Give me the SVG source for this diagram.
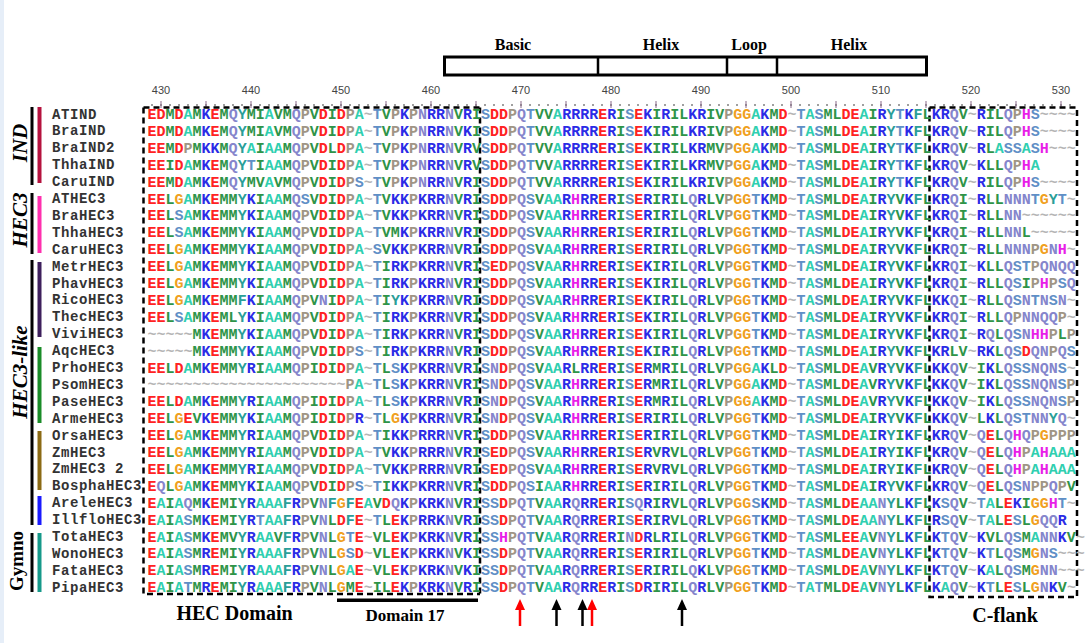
<svg xmlns="http://www.w3.org/2000/svg" width="1091" height="643" viewBox="0 0 1091 643">
<style>
.n{font:bold 14px 'Liberation Mono',monospace;letter-spacing:.6px;fill:#333}
.sq{font:bold 15px 'Liberation Mono',monospace;fill:#2e9448}
.r{fill:#ff2222}.c{fill:#30cfb0}.b{fill:#2b2be6}.q{fill:#8585cc}.s{fill:#5f8fc6}.p{fill:#a09585}.y{fill:#2a9e98}.o{fill:#f0a020}.h{fill:#e81ee8}.t{fill:#b5b5b5}
.rn{font:11px 'Liberation Sans',sans-serif;fill:#444;text-anchor:middle}
.hd{font:bold 16px 'Liberation Serif',serif;text-anchor:middle;fill:#000}
.gl{font:italic bold 21px 'Liberation Serif',serif;text-anchor:middle;fill:#000}
.lb{font:bold 20px 'Liberation Serif',serif;text-anchor:middle;fill:#000}
.dash{fill:none;stroke:#000;stroke-width:2.5;stroke-dasharray:6 4}
</style>
<rect width="1091" height="643" fill="#fff"/>
<rect x="0" y="0" width="4" height="643" fill="#e6eef8"/>
<g id="domains">
<rect x="444.5" y="57" width="482" height="18" fill="none" stroke="#000" stroke-width="3"/>
<path d="M598 57V75M727 57V75M777 57V75" stroke="#000" stroke-width="2.5"/>
<text class="hd" x="513" y="50">Basic</text>
<text class="hd" x="661" y="50">Helix</text>
<text class="hd" x="749" y="50">Loop</text>
<text class="hd" x="849" y="50">Helix</text>
</g>
<g id="ruler">
<text class="rn" x="161" y="94">430</text><text class="rn" x="251" y="94">440</text><text class="rn" x="341" y="94">450</text><text class="rn" x="431" y="94">460</text><text class="rn" x="521" y="94">470</text><text class="rn" x="611" y="94">480</text><text class="rn" x="701" y="94">490</text><text class="rn" x="791" y="94">500</text><text class="rn" x="881" y="94">510</text><text class="rn" x="971" y="94">520</text><text class="rn" x="1061" y="94">530</text>
<line x1="151.25" y1="105" x2="1071" y2="105" stroke="#555" stroke-width="1.5" stroke-dasharray="1.5 7.5"/>
<line x1="160.5" y1="104.5" x2="1071" y2="104.5" stroke="#8a6a8a" stroke-width="7" stroke-dasharray="1 44"/>
</g>
<g id="boxes">
<path class="dash" d="M143.5 107.5H480M143.5 107.5V594H480M480 107.5V596"/>
<path class="dash" d="M929.5 107.5H1077V597H929.5V107.5"/>
<rect x="337" y="598.5" width="141" height="3.5" fill="#000"/>
<text class="lb" x="234.5" y="620">HEC Domain</text>
<text class="lb" x="405" y="620.5" style="font-size:17px">Domain 17</text>
<text class="lb" x="1005" y="622">C-flank</text>
</g>
<g id="groups">
<rect x="30.5" y="107" width="3" height="78" fill="#000"/><rect x="37.5" y="107" width="4" height="76" fill="#b5123e"/>
<text class="gl" transform="translate(27 143) rotate(-90)">IND</text>
<rect x="30.5" y="193" width="3" height="61" fill="#000"/><rect x="37.5" y="196" width="4" height="57" fill="#ff2fae"/>
<text class="gl" transform="translate(27 220) rotate(-90)">HEC3</text>
<rect x="30.5" y="260" width="3" height="265" fill="#000"/>
<rect x="37.5" y="262" width="4" height="75" fill="#3d1f5c"/><rect x="37.5" y="347" width="4" height="76" fill="#1a8c28"/><rect x="37.5" y="431" width="4" height="59" fill="#8b6a14"/><rect x="37.5" y="496" width="4" height="29" fill="#1a1aff"/>
<text class="gl" transform="translate(27 372) rotate(-90)">HEC3-like</text>
<rect x="30.5" y="533" width="3" height="59" fill="#000"/><rect x="37.5" y="533" width="4" height="59" fill="#16998a"/>
<text class="gl" style="font-style:normal;font-size:19px" transform="translate(23 561) rotate(-90)">Gymno</text>
</g>
<g id="arrows" stroke-width="2.5">
<g stroke="#f00" fill="#f00"><path d="M520 626V606"/><path d="M515 610L520 599L525 610Z" stroke="none"/><path d="M592 626V606"/><path d="M587 610L592 599L597 610Z" stroke="none"/></g>
<g stroke="#000" fill="#000"><path d="M556.5 626V606"/><path d="M551.5 610L556.5 599L561.5 610Z" stroke="none"/><path d="M582.5 626V606"/><path d="M577.5 610L582.5 599L587.5 610Z" stroke="none"/><path d="M682 626V606"/><path d="M677 610L682 599L687 610Z" stroke="none"/></g>
</g>
<g id="r0"><text class="n" x="52" y="118.5">ATIND</text><text class="sq" x="147.5" y="119"><tspan class="r">ED</tspan>M<tspan class="r">D</tspan><tspan class="c">A</tspan>M<tspan class="b">K</tspan><tspan class="r">E</tspan>M<tspan class="q">Q</tspan><tspan class="y">Y</tspan>MI<tspan class="c">A</tspan>VM<tspan class="q">Q</tspan><tspan class="p">P</tspan>V<tspan class="r">D</tspan>I<tspan class="r">D</tspan><tspan class="p">P</tspan><tspan class="c">A</tspan><tspan class="t">~</tspan><tspan class="s">T</tspan>V<tspan class="p">P</tspan><tspan class="b">K</tspan><tspan class="p">P</tspan><tspan class="q">N</tspan><tspan class="b">RR</tspan><tspan class="q">N</tspan>V<tspan class="b">R</tspan>I<tspan class="s">S</tspan><tspan class="r">DD</tspan><tspan class="p">P</tspan><tspan class="q">Q</tspan><tspan class="s">T</tspan>VV<tspan class="c">A</tspan><tspan class="b">RRRR</tspan><tspan class="r">E</tspan><tspan class="b">R</tspan>I<tspan class="s">S</tspan><tspan class="r">E</tspan><tspan class="b">K</tspan>I<tspan class="b">R</tspan>IL<tspan class="b">KR</tspan>IV<tspan class="p">P</tspan><tspan class="o">GG</tspan><tspan class="c">A</tspan><tspan class="b">K</tspan>M<tspan class="r">D</tspan><tspan class="t">~</tspan><tspan class="s">T</tspan><tspan class="c">A</tspan><tspan class="s">S</tspan>ML<tspan class="r">DE</tspan><tspan class="c">A</tspan>I<tspan class="b">R</tspan><tspan class="y">Y</tspan><tspan class="s">T</tspan><tspan class="b">K</tspan><tspan class="y">F</tspan>L<tspan class="b">KR</tspan><tspan class="q">Q</tspan>V<tspan class="t">~</tspan><tspan class="b">R</tspan>IL<tspan class="q">Q</tspan><tspan class="p">P</tspan><tspan class="h">H</tspan><tspan class="s">S</tspan><tspan class="t">~~~~</tspan></text></g>
<g id="r1"><text class="n" x="52" y="135.4">BraIND</text><text class="sq" x="147.5" y="135.9"><tspan class="r">ED</tspan>M<tspan class="r">D</tspan><tspan class="c">A</tspan>M<tspan class="b">K</tspan><tspan class="r">E</tspan>M<tspan class="q">Q</tspan><tspan class="y">Y</tspan>MI<tspan class="c">A</tspan>VM<tspan class="q">Q</tspan><tspan class="p">P</tspan>V<tspan class="r">D</tspan>I<tspan class="r">D</tspan><tspan class="p">P</tspan><tspan class="c">A</tspan><tspan class="t">~</tspan><tspan class="s">T</tspan>V<tspan class="p">P</tspan><tspan class="b">K</tspan><tspan class="p">P</tspan><tspan class="q">N</tspan><tspan class="b">RR</tspan><tspan class="q">N</tspan>V<tspan class="b">K</tspan>I<tspan class="s">S</tspan><tspan class="r">DD</tspan><tspan class="p">P</tspan><tspan class="q">Q</tspan><tspan class="s">T</tspan>VV<tspan class="c">A</tspan><tspan class="b">RRRR</tspan><tspan class="r">E</tspan><tspan class="b">R</tspan>I<tspan class="s">S</tspan><tspan class="r">E</tspan><tspan class="b">K</tspan>I<tspan class="b">R</tspan>IL<tspan class="b">KR</tspan>IV<tspan class="p">P</tspan><tspan class="o">GG</tspan><tspan class="c">A</tspan><tspan class="b">K</tspan>M<tspan class="r">D</tspan><tspan class="t">~</tspan><tspan class="s">T</tspan><tspan class="c">A</tspan><tspan class="s">S</tspan>ML<tspan class="r">DE</tspan><tspan class="c">A</tspan>I<tspan class="b">R</tspan><tspan class="y">Y</tspan><tspan class="s">T</tspan><tspan class="b">K</tspan><tspan class="y">F</tspan>L<tspan class="b">KR</tspan><tspan class="q">Q</tspan>V<tspan class="t">~</tspan><tspan class="b">R</tspan>IL<tspan class="q">Q</tspan><tspan class="p">P</tspan><tspan class="h">H</tspan><tspan class="s">S</tspan><tspan class="t">~~~~</tspan></text></g>
<g id="r2"><text class="n" x="52" y="152.3">BraIND2</text><text class="sq" x="147.5" y="152.8"><tspan class="r">EE</tspan>M<tspan class="r">D</tspan><tspan class="p">P</tspan>M<tspan class="b">KK</tspan>M<tspan class="q">Q</tspan><tspan class="y">Y</tspan><tspan class="c">A</tspan>I<tspan class="c">AA</tspan>M<tspan class="q">Q</tspan><tspan class="p">P</tspan>V<tspan class="r">D</tspan>L<tspan class="r">D</tspan><tspan class="p">P</tspan><tspan class="c">A</tspan><tspan class="t">~</tspan><tspan class="s">T</tspan>V<tspan class="p">P</tspan><tspan class="b">K</tspan><tspan class="p">P</tspan><tspan class="q">N</tspan><tspan class="b">RR</tspan><tspan class="q">N</tspan>V<tspan class="b">R</tspan>V<tspan class="s">S</tspan><tspan class="r">DD</tspan><tspan class="p">P</tspan><tspan class="q">Q</tspan><tspan class="s">T</tspan>VV<tspan class="c">A</tspan><tspan class="b">RRRR</tspan><tspan class="r">E</tspan><tspan class="b">R</tspan>I<tspan class="s">S</tspan><tspan class="r">E</tspan><tspan class="b">K</tspan>I<tspan class="b">R</tspan>IL<tspan class="b">KR</tspan>MV<tspan class="p">P</tspan><tspan class="o">GG</tspan><tspan class="c">A</tspan><tspan class="b">K</tspan>M<tspan class="r">D</tspan><tspan class="t">~</tspan><tspan class="s">T</tspan><tspan class="c">A</tspan><tspan class="s">S</tspan>ML<tspan class="r">DE</tspan><tspan class="c">A</tspan>I<tspan class="b">R</tspan><tspan class="y">Y</tspan><tspan class="s">T</tspan><tspan class="b">K</tspan><tspan class="y">F</tspan>L<tspan class="b">KR</tspan><tspan class="q">Q</tspan>V<tspan class="t">~</tspan><tspan class="b">R</tspan>L<tspan class="c">A</tspan><tspan class="s">SS</tspan><tspan class="c">A</tspan><tspan class="s">S</tspan><tspan class="h">H</tspan><tspan class="t">~~~</tspan></text></g>
<g id="r3"><text class="n" x="52" y="169.2">ThhaIND</text><text class="sq" x="147.5" y="169.7"><tspan class="r">EE</tspan>I<tspan class="r">D</tspan><tspan class="c">A</tspan>M<tspan class="b">K</tspan><tspan class="r">E</tspan>M<tspan class="q">Q</tspan><tspan class="y">Y</tspan><tspan class="s">T</tspan>I<tspan class="c">AA</tspan>M<tspan class="q">Q</tspan><tspan class="p">P</tspan>V<tspan class="r">D</tspan>I<tspan class="r">D</tspan><tspan class="p">P</tspan><tspan class="c">A</tspan><tspan class="t">~</tspan><tspan class="s">T</tspan>V<tspan class="p">P</tspan><tspan class="b">K</tspan><tspan class="p">P</tspan><tspan class="q">N</tspan><tspan class="b">RR</tspan><tspan class="q">N</tspan>V<tspan class="b">R</tspan>V<tspan class="s">S</tspan><tspan class="r">DD</tspan><tspan class="p">P</tspan><tspan class="q">Q</tspan><tspan class="s">T</tspan>VV<tspan class="c">A</tspan><tspan class="b">RRRR</tspan><tspan class="r">E</tspan><tspan class="b">R</tspan>I<tspan class="s">S</tspan><tspan class="r">E</tspan><tspan class="b">K</tspan>I<tspan class="b">R</tspan>IL<tspan class="b">KR</tspan>MV<tspan class="p">P</tspan><tspan class="o">GG</tspan><tspan class="c">A</tspan><tspan class="b">K</tspan>M<tspan class="r">D</tspan><tspan class="t">~</tspan><tspan class="s">T</tspan><tspan class="c">A</tspan><tspan class="s">S</tspan>ML<tspan class="r">DE</tspan><tspan class="c">A</tspan>I<tspan class="b">R</tspan><tspan class="y">Y</tspan><tspan class="s">T</tspan><tspan class="b">K</tspan><tspan class="y">F</tspan>L<tspan class="b">KR</tspan><tspan class="q">Q</tspan>V<tspan class="t">~</tspan><tspan class="b">K</tspan>LL<tspan class="q">Q</tspan><tspan class="p">P</tspan><tspan class="h">H</tspan><tspan class="c">A</tspan></text></g>
<g id="r4"><text class="n" x="52" y="186.1">CaruIND</text><text class="sq" x="147.5" y="186.6"><tspan class="r">EE</tspan>M<tspan class="r">D</tspan><tspan class="c">A</tspan>M<tspan class="b">K</tspan><tspan class="r">E</tspan>M<tspan class="q">Q</tspan><tspan class="y">Y</tspan>MV<tspan class="c">A</tspan>VM<tspan class="q">Q</tspan><tspan class="p">P</tspan>V<tspan class="r">D</tspan>I<tspan class="r">D</tspan><tspan class="p">P</tspan><tspan class="s">S</tspan><tspan class="t">~</tspan><tspan class="s">T</tspan>V<tspan class="p">P</tspan><tspan class="b">K</tspan><tspan class="p">P</tspan><tspan class="q">N</tspan><tspan class="b">RR</tspan><tspan class="q">N</tspan>V<tspan class="b">R</tspan>I<tspan class="s">S</tspan><tspan class="r">DD</tspan><tspan class="p">P</tspan><tspan class="q">Q</tspan><tspan class="s">T</tspan>VV<tspan class="c">A</tspan><tspan class="b">RRRR</tspan><tspan class="r">E</tspan><tspan class="b">R</tspan>I<tspan class="s">S</tspan><tspan class="r">E</tspan><tspan class="b">K</tspan>I<tspan class="b">R</tspan>IL<tspan class="b">KR</tspan>IV<tspan class="p">P</tspan><tspan class="o">GG</tspan><tspan class="c">A</tspan><tspan class="b">K</tspan>M<tspan class="r">D</tspan><tspan class="t">~</tspan><tspan class="s">T</tspan><tspan class="c">A</tspan><tspan class="s">S</tspan>ML<tspan class="r">DE</tspan><tspan class="c">A</tspan>I<tspan class="b">R</tspan><tspan class="y">Y</tspan><tspan class="s">T</tspan><tspan class="b">K</tspan><tspan class="y">F</tspan>L<tspan class="b">KR</tspan><tspan class="q">Q</tspan>V<tspan class="t">~</tspan><tspan class="b">R</tspan>IL<tspan class="q">Q</tspan><tspan class="p">P</tspan><tspan class="h">H</tspan><tspan class="s">S</tspan><tspan class="t">~~~~</tspan></text></g>
<g id="r5"><text class="n" x="52" y="203">ATHEC3</text><text class="sq" x="147.5" y="203.5"><tspan class="r">EE</tspan>L<tspan class="o">G</tspan><tspan class="c">A</tspan>M<tspan class="b">K</tspan><tspan class="r">E</tspan>MM<tspan class="y">Y</tspan><tspan class="b">K</tspan>I<tspan class="c">AA</tspan>M<tspan class="q">Q</tspan><tspan class="s">S</tspan>V<tspan class="r">D</tspan>I<tspan class="r">D</tspan><tspan class="p">P</tspan><tspan class="c">A</tspan><tspan class="t">~</tspan><tspan class="s">T</tspan>V<tspan class="b">KK</tspan><tspan class="p">P</tspan><tspan class="b">KRR</tspan><tspan class="q">N</tspan>V<tspan class="b">R</tspan>I<tspan class="s">S</tspan><tspan class="r">DD</tspan><tspan class="p">P</tspan><tspan class="q">Q</tspan><tspan class="s">S</tspan>V<tspan class="c">AA</tspan><tspan class="b">R</tspan><tspan class="h">H</tspan><tspan class="b">RR</tspan><tspan class="r">E</tspan><tspan class="b">R</tspan>I<tspan class="s">S</tspan><tspan class="r">E</tspan><tspan class="b">R</tspan>I<tspan class="b">R</tspan>IL<tspan class="q">Q</tspan><tspan class="b">R</tspan>LV<tspan class="p">P</tspan><tspan class="o">GG</tspan><tspan class="s">T</tspan><tspan class="b">K</tspan>M<tspan class="r">D</tspan><tspan class="t">~</tspan><tspan class="s">T</tspan><tspan class="c">A</tspan><tspan class="s">S</tspan>ML<tspan class="r">DE</tspan><tspan class="c">A</tspan>I<tspan class="b">R</tspan><tspan class="y">Y</tspan>V<tspan class="b">K</tspan><tspan class="y">F</tspan>L<tspan class="b">KR</tspan><tspan class="q">Q</tspan>I<tspan class="t">~</tspan><tspan class="b">R</tspan>LL<tspan class="q">NNN</tspan><tspan class="s">T</tspan><tspan class="o">G</tspan><tspan class="y">Y</tspan><tspan class="s">T</tspan><tspan class="t">~</tspan></text></g>
<g id="r6"><text class="n" x="52" y="219.9">BraHEC3</text><text class="sq" x="147.5" y="220.4"><tspan class="r">EE</tspan>L<tspan class="s">S</tspan><tspan class="c">A</tspan>M<tspan class="b">K</tspan><tspan class="r">E</tspan>MM<tspan class="y">Y</tspan><tspan class="b">K</tspan>I<tspan class="c">AA</tspan>M<tspan class="q">Q</tspan><tspan class="p">P</tspan>V<tspan class="r">D</tspan>I<tspan class="r">D</tspan><tspan class="p">P</tspan><tspan class="c">A</tspan><tspan class="t">~</tspan><tspan class="s">T</tspan>V<tspan class="b">KK</tspan><tspan class="p">P</tspan><tspan class="b">KRR</tspan><tspan class="q">N</tspan>V<tspan class="b">R</tspan>I<tspan class="s">S</tspan><tspan class="r">DD</tspan><tspan class="p">P</tspan><tspan class="q">Q</tspan><tspan class="s">S</tspan>V<tspan class="c">AA</tspan><tspan class="b">R</tspan><tspan class="h">H</tspan><tspan class="b">RR</tspan><tspan class="r">E</tspan><tspan class="b">R</tspan>I<tspan class="s">S</tspan><tspan class="r">E</tspan><tspan class="b">R</tspan>I<tspan class="b">R</tspan>IL<tspan class="q">Q</tspan><tspan class="b">R</tspan>LV<tspan class="p">P</tspan><tspan class="o">GG</tspan><tspan class="s">T</tspan><tspan class="b">K</tspan>M<tspan class="r">D</tspan><tspan class="t">~</tspan><tspan class="s">T</tspan><tspan class="c">A</tspan><tspan class="s">S</tspan>ML<tspan class="r">DE</tspan><tspan class="c">A</tspan>I<tspan class="b">R</tspan><tspan class="y">Y</tspan>V<tspan class="b">K</tspan><tspan class="y">F</tspan>L<tspan class="b">KR</tspan><tspan class="q">Q</tspan>I<tspan class="t">~</tspan><tspan class="b">R</tspan>LL<tspan class="q">NN</tspan><tspan class="t">~~~~~~</tspan></text></g>
<g id="r7"><text class="n" x="52" y="236.8">ThhaHEC3</text><text class="sq" x="147.5" y="237.3"><tspan class="r">EE</tspan>L<tspan class="s">S</tspan><tspan class="c">A</tspan>M<tspan class="b">K</tspan><tspan class="r">E</tspan>MM<tspan class="y">Y</tspan><tspan class="b">K</tspan>I<tspan class="c">AA</tspan>M<tspan class="q">Q</tspan><tspan class="p">P</tspan>V<tspan class="r">D</tspan>I<tspan class="r">D</tspan><tspan class="p">P</tspan><tspan class="c">A</tspan><tspan class="t">~</tspan><tspan class="s">T</tspan>VM<tspan class="b">K</tspan><tspan class="p">P</tspan><tspan class="b">KRR</tspan><tspan class="q">N</tspan>V<tspan class="b">R</tspan>I<tspan class="s">S</tspan><tspan class="r">DD</tspan><tspan class="p">P</tspan><tspan class="q">Q</tspan><tspan class="s">S</tspan>V<tspan class="c">AA</tspan><tspan class="b">R</tspan><tspan class="h">H</tspan><tspan class="b">RR</tspan><tspan class="r">E</tspan><tspan class="b">R</tspan>I<tspan class="s">S</tspan><tspan class="r">E</tspan><tspan class="b">R</tspan>I<tspan class="b">R</tspan>IL<tspan class="q">Q</tspan><tspan class="b">R</tspan>LV<tspan class="p">P</tspan><tspan class="o">GG</tspan><tspan class="s">T</tspan><tspan class="b">K</tspan>M<tspan class="r">D</tspan><tspan class="t">~</tspan><tspan class="s">T</tspan><tspan class="c">A</tspan><tspan class="s">S</tspan>ML<tspan class="r">DE</tspan><tspan class="c">A</tspan>I<tspan class="b">R</tspan><tspan class="y">Y</tspan>V<tspan class="b">K</tspan><tspan class="y">F</tspan>L<tspan class="b">KR</tspan><tspan class="q">Q</tspan>I<tspan class="t">~</tspan><tspan class="b">R</tspan>LL<tspan class="q">NN</tspan>L<tspan class="t">~~~~~</tspan></text></g>
<g id="r8"><text class="n" x="52" y="253.7">CaruHEC3</text><text class="sq" x="147.5" y="254.2"><tspan class="r">EE</tspan>L<tspan class="o">G</tspan><tspan class="c">A</tspan>M<tspan class="b">K</tspan><tspan class="r">E</tspan>MM<tspan class="y">Y</tspan><tspan class="b">K</tspan>I<tspan class="c">AA</tspan>M<tspan class="q">Q</tspan><tspan class="p">P</tspan>V<tspan class="r">D</tspan>I<tspan class="r">D</tspan><tspan class="p">P</tspan><tspan class="c">A</tspan><tspan class="t">~</tspan><tspan class="s">S</tspan>V<tspan class="b">KK</tspan><tspan class="p">P</tspan><tspan class="b">KRR</tspan><tspan class="q">N</tspan>V<tspan class="b">R</tspan>I<tspan class="s">S</tspan><tspan class="r">DD</tspan><tspan class="p">P</tspan><tspan class="q">Q</tspan><tspan class="s">S</tspan>V<tspan class="c">AA</tspan><tspan class="b">R</tspan><tspan class="h">H</tspan><tspan class="b">RR</tspan><tspan class="r">E</tspan><tspan class="b">R</tspan>I<tspan class="s">S</tspan><tspan class="r">E</tspan><tspan class="b">R</tspan>I<tspan class="b">R</tspan>IL<tspan class="q">Q</tspan><tspan class="b">R</tspan>LV<tspan class="p">P</tspan><tspan class="o">GG</tspan><tspan class="s">T</tspan><tspan class="b">K</tspan>M<tspan class="r">D</tspan><tspan class="t">~</tspan><tspan class="s">T</tspan><tspan class="c">A</tspan><tspan class="s">S</tspan>ML<tspan class="r">DE</tspan><tspan class="c">A</tspan>I<tspan class="b">R</tspan><tspan class="y">Y</tspan>V<tspan class="b">K</tspan><tspan class="y">F</tspan>L<tspan class="b">KR</tspan><tspan class="q">Q</tspan>I<tspan class="t">~</tspan><tspan class="b">R</tspan>LL<tspan class="q">NNN</tspan><tspan class="p">P</tspan><tspan class="o">G</tspan><tspan class="q">N</tspan><tspan class="h">H</tspan><tspan class="t">~</tspan></text></g>
<g id="r9"><text class="n" x="52" y="270.6">MetrHEC3</text><text class="sq" x="147.5" y="271.1"><tspan class="r">EE</tspan>L<tspan class="o">G</tspan><tspan class="c">A</tspan>M<tspan class="b">K</tspan><tspan class="r">E</tspan>MM<tspan class="y">Y</tspan><tspan class="b">K</tspan>I<tspan class="c">AA</tspan>M<tspan class="q">Q</tspan><tspan class="p">P</tspan>V<tspan class="r">D</tspan>I<tspan class="r">D</tspan><tspan class="p">P</tspan><tspan class="c">A</tspan><tspan class="t">~</tspan><tspan class="s">T</tspan>I<tspan class="b">RK</tspan><tspan class="p">P</tspan><tspan class="b">KRR</tspan><tspan class="q">N</tspan>V<tspan class="b">R</tspan>I<tspan class="s">S</tspan><tspan class="r">ED</tspan><tspan class="p">P</tspan><tspan class="q">Q</tspan><tspan class="s">S</tspan>V<tspan class="c">AA</tspan><tspan class="b">R</tspan><tspan class="h">H</tspan><tspan class="b">RR</tspan><tspan class="r">E</tspan><tspan class="b">R</tspan>I<tspan class="s">S</tspan><tspan class="r">E</tspan><tspan class="b">K</tspan>I<tspan class="b">R</tspan>IL<tspan class="q">Q</tspan><tspan class="b">R</tspan>LV<tspan class="p">P</tspan><tspan class="o">GG</tspan><tspan class="s">T</tspan><tspan class="b">K</tspan>M<tspan class="r">D</tspan><tspan class="t">~</tspan><tspan class="s">T</tspan><tspan class="c">A</tspan><tspan class="s">S</tspan>ML<tspan class="r">DE</tspan><tspan class="c">A</tspan>I<tspan class="b">R</tspan><tspan class="y">Y</tspan>V<tspan class="b">K</tspan><tspan class="y">F</tspan>L<tspan class="b">KR</tspan><tspan class="q">Q</tspan>I<tspan class="t">~</tspan><tspan class="b">K</tspan>LL<tspan class="q">Q</tspan><tspan class="s">ST</tspan><tspan class="p">P</tspan><tspan class="q">QNQQ</tspan></text></g>
<g id="r10"><text class="n" x="52" y="287.5">PhavHEC3</text><text class="sq" x="147.5" y="288"><tspan class="r">EE</tspan>L<tspan class="o">G</tspan><tspan class="c">A</tspan>M<tspan class="b">K</tspan><tspan class="r">E</tspan>MM<tspan class="y">Y</tspan><tspan class="b">K</tspan>I<tspan class="c">AA</tspan>M<tspan class="q">Q</tspan><tspan class="p">P</tspan>V<tspan class="r">D</tspan>I<tspan class="r">D</tspan><tspan class="p">P</tspan><tspan class="c">A</tspan><tspan class="t">~</tspan><tspan class="s">T</tspan>I<tspan class="b">RK</tspan><tspan class="p">P</tspan><tspan class="b">KRR</tspan><tspan class="q">N</tspan>V<tspan class="b">R</tspan>I<tspan class="s">S</tspan><tspan class="r">DD</tspan><tspan class="p">P</tspan><tspan class="q">Q</tspan><tspan class="s">S</tspan>V<tspan class="c">AA</tspan><tspan class="b">R</tspan><tspan class="h">H</tspan><tspan class="b">RR</tspan><tspan class="r">E</tspan><tspan class="b">R</tspan>I<tspan class="s">S</tspan><tspan class="r">E</tspan><tspan class="b">K</tspan>I<tspan class="b">R</tspan>IL<tspan class="q">Q</tspan><tspan class="b">R</tspan>LV<tspan class="p">P</tspan><tspan class="o">GG</tspan><tspan class="s">T</tspan><tspan class="b">K</tspan>M<tspan class="r">D</tspan><tspan class="t">~</tspan><tspan class="s">T</tspan><tspan class="c">A</tspan><tspan class="s">S</tspan>ML<tspan class="r">DE</tspan><tspan class="c">A</tspan>I<tspan class="b">R</tspan><tspan class="y">Y</tspan>V<tspan class="b">K</tspan><tspan class="y">F</tspan>L<tspan class="b">KR</tspan><tspan class="q">Q</tspan>I<tspan class="t">~</tspan><tspan class="b">R</tspan>LL<tspan class="q">Q</tspan><tspan class="s">S</tspan>I<tspan class="p">P</tspan><tspan class="h">H</tspan><tspan class="p">P</tspan><tspan class="s">S</tspan><tspan class="q">Q</tspan></text></g>
<g id="r11"><text class="n" x="52" y="304.4">RicoHEC3</text><text class="sq" x="147.5" y="304.9"><tspan class="r">EE</tspan>L<tspan class="o">G</tspan><tspan class="c">A</tspan>M<tspan class="b">K</tspan><tspan class="r">E</tspan>MM<tspan class="y">F</tspan><tspan class="b">K</tspan>I<tspan class="c">AA</tspan>M<tspan class="q">Q</tspan><tspan class="p">P</tspan>V<tspan class="q">N</tspan>I<tspan class="r">D</tspan><tspan class="p">P</tspan><tspan class="c">A</tspan><tspan class="t">~</tspan><tspan class="s">T</tspan>I<tspan class="y">Y</tspan><tspan class="b">K</tspan><tspan class="p">P</tspan><tspan class="b">KRR</tspan><tspan class="q">N</tspan>V<tspan class="b">R</tspan>I<tspan class="s">S</tspan><tspan class="r">DD</tspan><tspan class="p">P</tspan><tspan class="q">Q</tspan><tspan class="s">S</tspan>V<tspan class="c">AA</tspan><tspan class="b">R</tspan><tspan class="h">H</tspan><tspan class="b">RR</tspan><tspan class="r">E</tspan><tspan class="b">R</tspan>I<tspan class="s">S</tspan><tspan class="r">E</tspan><tspan class="b">K</tspan>I<tspan class="b">R</tspan>IL<tspan class="q">Q</tspan><tspan class="b">R</tspan>LV<tspan class="p">P</tspan><tspan class="o">GG</tspan><tspan class="s">T</tspan><tspan class="b">K</tspan>M<tspan class="r">D</tspan><tspan class="t">~</tspan><tspan class="s">T</tspan><tspan class="c">A</tspan><tspan class="s">S</tspan>ML<tspan class="r">DE</tspan><tspan class="c">A</tspan>I<tspan class="b">R</tspan><tspan class="y">Y</tspan>V<tspan class="b">K</tspan><tspan class="y">F</tspan>L<tspan class="b">KK</tspan><tspan class="q">Q</tspan>I<tspan class="t">~</tspan><tspan class="b">R</tspan>LL<tspan class="q">Q</tspan><tspan class="s">S</tspan><tspan class="q">N</tspan><tspan class="s">T</tspan><tspan class="q">N</tspan><tspan class="s">S</tspan><tspan class="q">N</tspan><tspan class="t">~</tspan></text></g>
<g id="r12"><text class="n" x="52" y="321.3">ThecHEC3</text><text class="sq" x="147.5" y="321.8"><tspan class="r">EE</tspan>L<tspan class="s">S</tspan><tspan class="c">A</tspan>M<tspan class="b">K</tspan><tspan class="r">E</tspan>ML<tspan class="y">Y</tspan><tspan class="b">K</tspan>I<tspan class="c">AA</tspan>M<tspan class="q">Q</tspan><tspan class="p">P</tspan>V<tspan class="r">D</tspan>I<tspan class="r">D</tspan><tspan class="p">P</tspan><tspan class="c">A</tspan><tspan class="t">~</tspan><tspan class="s">T</tspan>I<tspan class="b">RK</tspan><tspan class="p">P</tspan><tspan class="b">KRR</tspan><tspan class="q">N</tspan>V<tspan class="b">R</tspan>I<tspan class="s">S</tspan><tspan class="r">DD</tspan><tspan class="p">P</tspan><tspan class="q">Q</tspan><tspan class="s">S</tspan>V<tspan class="c">AA</tspan><tspan class="b">R</tspan><tspan class="h">H</tspan><tspan class="b">RR</tspan><tspan class="r">E</tspan><tspan class="b">R</tspan>I<tspan class="s">S</tspan><tspan class="r">E</tspan><tspan class="b">K</tspan>I<tspan class="b">R</tspan>IL<tspan class="q">Q</tspan><tspan class="b">R</tspan>LV<tspan class="p">P</tspan><tspan class="o">GG</tspan><tspan class="s">T</tspan><tspan class="b">K</tspan>M<tspan class="r">D</tspan><tspan class="t">~</tspan><tspan class="s">T</tspan><tspan class="c">A</tspan><tspan class="s">S</tspan>ML<tspan class="r">DE</tspan><tspan class="c">A</tspan>I<tspan class="b">R</tspan><tspan class="y">Y</tspan>V<tspan class="b">K</tspan><tspan class="y">F</tspan>L<tspan class="b">KR</tspan><tspan class="q">Q</tspan>I<tspan class="t">~</tspan><tspan class="b">R</tspan>LL<tspan class="q">Q</tspan><tspan class="p">P</tspan><tspan class="q">NNQQ</tspan><tspan class="p">P</tspan><tspan class="t">~</tspan></text></g>
<g id="r13"><text class="n" x="52" y="338.2">ViviHEC3</text><text class="sq" x="147.5" y="338.7"><tspan class="t">~~~~~</tspan>M<tspan class="b">K</tspan><tspan class="r">E</tspan>MM<tspan class="y">Y</tspan><tspan class="b">K</tspan>I<tspan class="c">AA</tspan>M<tspan class="q">Q</tspan><tspan class="p">P</tspan>V<tspan class="r">D</tspan>I<tspan class="r">D</tspan><tspan class="p">P</tspan><tspan class="c">A</tspan><tspan class="t">~</tspan><tspan class="s">T</tspan>I<tspan class="b">RK</tspan><tspan class="p">P</tspan><tspan class="b">KRR</tspan><tspan class="q">N</tspan>V<tspan class="b">R</tspan>I<tspan class="s">S</tspan><tspan class="r">DD</tspan><tspan class="p">P</tspan><tspan class="q">Q</tspan><tspan class="s">S</tspan>V<tspan class="c">AA</tspan><tspan class="b">R</tspan><tspan class="h">H</tspan><tspan class="b">RR</tspan><tspan class="r">E</tspan><tspan class="b">R</tspan>I<tspan class="s">S</tspan><tspan class="r">E</tspan><tspan class="b">K</tspan>I<tspan class="b">R</tspan>IL<tspan class="q">Q</tspan><tspan class="b">R</tspan>LV<tspan class="p">P</tspan><tspan class="o">GG</tspan><tspan class="s">T</tspan><tspan class="b">K</tspan>M<tspan class="r">D</tspan><tspan class="t">~</tspan><tspan class="s">T</tspan><tspan class="c">A</tspan><tspan class="s">S</tspan>ML<tspan class="r">DE</tspan><tspan class="c">A</tspan>I<tspan class="b">R</tspan><tspan class="y">Y</tspan>V<tspan class="b">K</tspan><tspan class="y">F</tspan>L<tspan class="b">KR</tspan><tspan class="q">Q</tspan>I<tspan class="t">~</tspan><tspan class="b">R</tspan><tspan class="q">Q</tspan>L<tspan class="q">Q</tspan><tspan class="s">S</tspan><tspan class="q">N</tspan><tspan class="h">HH</tspan><tspan class="p">P</tspan>L<tspan class="p">P</tspan></text></g>
<g id="r14"><text class="n" x="52" y="355.1">AqcHEC3</text><text class="sq" x="147.5" y="355.6"><tspan class="t">~~~~~</tspan>M<tspan class="b">K</tspan><tspan class="r">E</tspan>MM<tspan class="y">Y</tspan><tspan class="b">K</tspan>I<tspan class="c">AA</tspan>M<tspan class="q">Q</tspan><tspan class="p">P</tspan>V<tspan class="r">D</tspan>I<tspan class="r">D</tspan><tspan class="p">P</tspan><tspan class="s">S</tspan><tspan class="t">~</tspan><tspan class="s">T</tspan>I<tspan class="b">RK</tspan><tspan class="p">P</tspan><tspan class="b">KRR</tspan><tspan class="q">N</tspan>V<tspan class="b">R</tspan>I<tspan class="s">S</tspan><tspan class="r">DD</tspan><tspan class="p">P</tspan><tspan class="q">Q</tspan><tspan class="s">S</tspan>V<tspan class="c">AA</tspan><tspan class="b">R</tspan><tspan class="h">H</tspan><tspan class="b">RR</tspan><tspan class="r">E</tspan><tspan class="b">R</tspan>I<tspan class="s">S</tspan><tspan class="r">E</tspan><tspan class="b">K</tspan>I<tspan class="b">R</tspan>IL<tspan class="q">Q</tspan><tspan class="b">R</tspan>LV<tspan class="p">P</tspan><tspan class="o">GG</tspan><tspan class="s">T</tspan><tspan class="b">K</tspan>M<tspan class="r">D</tspan><tspan class="t">~</tspan><tspan class="s">T</tspan><tspan class="c">A</tspan><tspan class="s">S</tspan>ML<tspan class="r">DE</tspan><tspan class="c">A</tspan>I<tspan class="b">R</tspan><tspan class="y">Y</tspan>V<tspan class="b">K</tspan><tspan class="y">F</tspan>L<tspan class="b">KR</tspan>LV<tspan class="t">~</tspan><tspan class="b">RK</tspan>L<tspan class="q">Q</tspan><tspan class="s">S</tspan><tspan class="r">D</tspan><tspan class="q">QN</tspan><tspan class="p">P</tspan><tspan class="q">Q</tspan><tspan class="s">S</tspan></text></g>
<g id="r15"><text class="n" x="52" y="372">PrhoHEC3</text><text class="sq" x="147.5" y="372.5"><tspan class="r">EE</tspan>L<tspan class="r">D</tspan><tspan class="c">A</tspan>M<tspan class="b">K</tspan><tspan class="r">E</tspan>MM<tspan class="y">Y</tspan><tspan class="b">R</tspan>I<tspan class="c">AA</tspan>M<tspan class="q">Q</tspan><tspan class="p">P</tspan>I<tspan class="r">D</tspan>I<tspan class="r">D</tspan><tspan class="p">P</tspan><tspan class="c">A</tspan><tspan class="t">~</tspan><tspan class="s">T</tspan>L<tspan class="s">S</tspan><tspan class="b">K</tspan><tspan class="p">P</tspan><tspan class="b">KRR</tspan><tspan class="q">N</tspan>V<tspan class="b">R</tspan>I<tspan class="s">S</tspan><tspan class="q">N</tspan><tspan class="r">D</tspan><tspan class="p">P</tspan><tspan class="q">Q</tspan><tspan class="s">S</tspan>V<tspan class="c">AA</tspan><tspan class="b">R</tspan>L<tspan class="b">RR</tspan><tspan class="r">E</tspan><tspan class="b">R</tspan>I<tspan class="s">S</tspan><tspan class="r">E</tspan><tspan class="b">R</tspan>M<tspan class="b">R</tspan>IL<tspan class="q">Q</tspan><tspan class="b">R</tspan>LV<tspan class="p">P</tspan><tspan class="o">GG</tspan><tspan class="c">A</tspan><tspan class="b">K</tspan>L<tspan class="r">D</tspan><tspan class="t">~</tspan><tspan class="s">T</tspan><tspan class="c">A</tspan><tspan class="s">S</tspan>ML<tspan class="r">DE</tspan><tspan class="c">A</tspan>V<tspan class="b">R</tspan><tspan class="y">Y</tspan>V<tspan class="b">K</tspan><tspan class="y">F</tspan>L<tspan class="b">KK</tspan><tspan class="q">Q</tspan>V<tspan class="t">~</tspan>I<tspan class="b">K</tspan>L<tspan class="q">Q</tspan><tspan class="s">SS</tspan><tspan class="q">NQN</tspan><tspan class="s">S</tspan><tspan class="t">~</tspan></text></g>
<g id="r16"><text class="n" x="52" y="388.9">PsomHEC3</text><text class="sq" x="147.5" y="389.4"><tspan class="t">~~~~~~~~~~~~~~~~~~~~~~</tspan><tspan class="p">P</tspan><tspan class="c">A</tspan><tspan class="t">~</tspan><tspan class="s">T</tspan>L<tspan class="s">S</tspan><tspan class="b">K</tspan><tspan class="p">P</tspan><tspan class="b">KRR</tspan><tspan class="q">N</tspan>V<tspan class="b">R</tspan>I<tspan class="s">S</tspan><tspan class="q">N</tspan><tspan class="r">D</tspan><tspan class="p">P</tspan><tspan class="q">Q</tspan><tspan class="s">S</tspan>V<tspan class="c">AA</tspan><tspan class="b">R</tspan><tspan class="h">H</tspan><tspan class="b">RR</tspan><tspan class="r">E</tspan><tspan class="b">R</tspan>I<tspan class="s">S</tspan><tspan class="r">E</tspan><tspan class="b">R</tspan>M<tspan class="b">R</tspan>IL<tspan class="q">Q</tspan><tspan class="b">R</tspan>LV<tspan class="p">P</tspan><tspan class="o">GG</tspan><tspan class="c">A</tspan><tspan class="b">K</tspan>M<tspan class="r">D</tspan><tspan class="t">~</tspan><tspan class="s">T</tspan><tspan class="c">A</tspan><tspan class="s">S</tspan>ML<tspan class="r">DE</tspan><tspan class="c">A</tspan>V<tspan class="b">R</tspan><tspan class="y">Y</tspan>V<tspan class="b">K</tspan><tspan class="y">F</tspan>L<tspan class="b">KK</tspan><tspan class="q">Q</tspan>V<tspan class="t">~</tspan>I<tspan class="b">K</tspan>L<tspan class="q">Q</tspan><tspan class="s">SS</tspan><tspan class="q">NQN</tspan><tspan class="s">S</tspan><tspan class="p">P</tspan></text></g>
<g id="r17"><text class="n" x="52" y="405.8">PaseHEC3</text><text class="sq" x="147.5" y="406.3"><tspan class="r">EE</tspan>L<tspan class="r">D</tspan><tspan class="c">A</tspan>M<tspan class="b">K</tspan><tspan class="r">E</tspan>MM<tspan class="y">Y</tspan><tspan class="b">R</tspan>I<tspan class="c">AA</tspan>M<tspan class="q">Q</tspan><tspan class="p">P</tspan>I<tspan class="r">D</tspan>I<tspan class="r">D</tspan><tspan class="p">P</tspan><tspan class="c">A</tspan><tspan class="t">~</tspan><tspan class="s">T</tspan>L<tspan class="s">S</tspan><tspan class="b">K</tspan><tspan class="p">P</tspan><tspan class="b">KRR</tspan><tspan class="q">N</tspan>V<tspan class="b">R</tspan>I<tspan class="s">S</tspan><tspan class="q">N</tspan><tspan class="r">D</tspan><tspan class="p">P</tspan><tspan class="q">Q</tspan><tspan class="s">S</tspan>V<tspan class="c">AA</tspan><tspan class="b">R</tspan><tspan class="h">H</tspan><tspan class="b">RR</tspan><tspan class="r">E</tspan><tspan class="b">R</tspan>I<tspan class="s">S</tspan><tspan class="r">E</tspan><tspan class="b">R</tspan>M<tspan class="b">R</tspan>IL<tspan class="q">Q</tspan><tspan class="b">R</tspan>LV<tspan class="p">P</tspan><tspan class="o">GG</tspan><tspan class="c">A</tspan><tspan class="b">K</tspan>M<tspan class="r">D</tspan><tspan class="t">~</tspan><tspan class="s">T</tspan><tspan class="c">A</tspan><tspan class="s">S</tspan>ML<tspan class="r">DE</tspan><tspan class="c">A</tspan>V<tspan class="b">R</tspan><tspan class="y">Y</tspan>V<tspan class="b">K</tspan><tspan class="y">F</tspan>L<tspan class="b">KK</tspan><tspan class="q">Q</tspan>V<tspan class="t">~</tspan>I<tspan class="b">K</tspan>L<tspan class="q">Q</tspan><tspan class="s">SS</tspan><tspan class="q">NQN</tspan><tspan class="s">S</tspan><tspan class="p">P</tspan></text></g>
<g id="r18"><text class="n" x="52" y="422.7">ArmeHEC3</text><text class="sq" x="147.5" y="423.2"><tspan class="r">EE</tspan>L<tspan class="o">G</tspan><tspan class="r">E</tspan>V<tspan class="b">K</tspan><tspan class="r">E</tspan>MM<tspan class="y">Y</tspan><tspan class="b">K</tspan>I<tspan class="c">AA</tspan>M<tspan class="q">Q</tspan><tspan class="p">P</tspan>I<tspan class="r">D</tspan>I<tspan class="r">D</tspan><tspan class="p">P</tspan><tspan class="b">R</tspan><tspan class="t">~</tspan><tspan class="s">T</tspan>L<tspan class="o">G</tspan><tspan class="b">K</tspan><tspan class="p">P</tspan><tspan class="b">KRR</tspan><tspan class="q">N</tspan>V<tspan class="b">R</tspan>I<tspan class="s">S</tspan><tspan class="q">N</tspan><tspan class="r">D</tspan><tspan class="p">P</tspan><tspan class="q">Q</tspan><tspan class="s">S</tspan>V<tspan class="c">AA</tspan><tspan class="b">R</tspan><tspan class="h">H</tspan><tspan class="b">RR</tspan><tspan class="r">E</tspan><tspan class="b">R</tspan>I<tspan class="s">S</tspan><tspan class="r">E</tspan><tspan class="b">R</tspan>I<tspan class="b">R</tspan>IL<tspan class="q">Q</tspan><tspan class="b">R</tspan>LV<tspan class="p">P</tspan><tspan class="o">GG</tspan><tspan class="s">T</tspan><tspan class="b">K</tspan>M<tspan class="r">D</tspan><tspan class="t">~</tspan><tspan class="s">T</tspan><tspan class="c">A</tspan><tspan class="s">S</tspan>ML<tspan class="r">DE</tspan><tspan class="c">A</tspan>I<tspan class="b">R</tspan><tspan class="y">Y</tspan>V<tspan class="b">K</tspan><tspan class="y">F</tspan>L<tspan class="b">KK</tspan><tspan class="q">Q</tspan>V<tspan class="t">~</tspan>L<tspan class="b">K</tspan>L<tspan class="q">Q</tspan><tspan class="s">ST</tspan><tspan class="q">NN</tspan><tspan class="y">Y</tspan><tspan class="q">Q</tspan><tspan class="t">~</tspan></text></g>
<g id="r19"><text class="n" x="52" y="439.6">OrsaHEC3</text><text class="sq" x="147.5" y="440.1"><tspan class="r">EE</tspan>L<tspan class="o">G</tspan><tspan class="c">A</tspan>M<tspan class="b">K</tspan><tspan class="r">E</tspan>MM<tspan class="y">Y</tspan><tspan class="b">R</tspan>I<tspan class="c">AA</tspan>M<tspan class="q">Q</tspan><tspan class="p">P</tspan>V<tspan class="r">D</tspan>I<tspan class="r">D</tspan><tspan class="p">P</tspan><tspan class="c">A</tspan><tspan class="t">~</tspan><tspan class="s">T</tspan>I<tspan class="b">KK</tspan><tspan class="p">P</tspan><tspan class="b">RRR</tspan><tspan class="q">N</tspan>V<tspan class="b">R</tspan>I<tspan class="s">S</tspan><tspan class="r">DD</tspan><tspan class="p">P</tspan><tspan class="q">Q</tspan><tspan class="s">S</tspan>V<tspan class="c">AA</tspan><tspan class="b">R</tspan><tspan class="h">H</tspan><tspan class="b">RR</tspan><tspan class="r">E</tspan><tspan class="b">R</tspan>I<tspan class="s">S</tspan><tspan class="r">E</tspan><tspan class="b">R</tspan>I<tspan class="b">R</tspan>IL<tspan class="q">Q</tspan><tspan class="b">R</tspan>LV<tspan class="p">P</tspan><tspan class="o">GG</tspan><tspan class="s">T</tspan><tspan class="b">K</tspan>M<tspan class="r">D</tspan><tspan class="t">~</tspan><tspan class="s">T</tspan><tspan class="c">A</tspan><tspan class="s">S</tspan>ML<tspan class="r">DE</tspan><tspan class="c">A</tspan>I<tspan class="b">R</tspan><tspan class="y">Y</tspan>I<tspan class="b">K</tspan><tspan class="y">F</tspan>L<tspan class="b">KR</tspan><tspan class="q">Q</tspan>V<tspan class="t">~</tspan><tspan class="q">Q</tspan><tspan class="r">E</tspan>L<tspan class="q">Q</tspan><tspan class="h">H</tspan><tspan class="q">Q</tspan><tspan class="p">P</tspan><tspan class="o">G</tspan><tspan class="p">PPP</tspan></text></g>
<g id="r20"><text class="n" x="52" y="456.5">ZmHEC3</text><text class="sq" x="147.5" y="457"><tspan class="r">EE</tspan>L<tspan class="o">G</tspan><tspan class="c">A</tspan>M<tspan class="b">K</tspan><tspan class="r">E</tspan>MM<tspan class="y">Y</tspan><tspan class="b">R</tspan>I<tspan class="c">AA</tspan>M<tspan class="q">Q</tspan><tspan class="p">P</tspan>V<tspan class="r">D</tspan>I<tspan class="r">D</tspan><tspan class="p">P</tspan><tspan class="c">A</tspan><tspan class="t">~</tspan><tspan class="s">T</tspan>V<tspan class="b">KK</tspan><tspan class="p">P</tspan><tspan class="b">RRR</tspan><tspan class="q">N</tspan>V<tspan class="b">R</tspan>I<tspan class="s">S</tspan><tspan class="r">ED</tspan><tspan class="p">P</tspan><tspan class="q">Q</tspan><tspan class="s">S</tspan>V<tspan class="c">AA</tspan><tspan class="b">R</tspan><tspan class="h">H</tspan><tspan class="b">RR</tspan><tspan class="r">E</tspan><tspan class="b">R</tspan>I<tspan class="s">S</tspan><tspan class="r">E</tspan><tspan class="b">R</tspan>V<tspan class="b">R</tspan>VL<tspan class="q">Q</tspan><tspan class="b">R</tspan>LV<tspan class="p">P</tspan><tspan class="o">GG</tspan><tspan class="s">T</tspan><tspan class="b">K</tspan>M<tspan class="r">D</tspan><tspan class="t">~</tspan><tspan class="s">T</tspan><tspan class="c">A</tspan><tspan class="s">S</tspan>ML<tspan class="r">DE</tspan><tspan class="c">A</tspan>I<tspan class="b">R</tspan><tspan class="y">Y</tspan>I<tspan class="b">K</tspan><tspan class="y">F</tspan>L<tspan class="b">KR</tspan><tspan class="q">Q</tspan>V<tspan class="t">~</tspan><tspan class="q">Q</tspan><tspan class="r">E</tspan>L<tspan class="q">Q</tspan><tspan class="h">H</tspan><tspan class="p">P</tspan><tspan class="c">A</tspan><tspan class="h">H</tspan><tspan class="c">AAA</tspan></text></g>
<g id="r21"><text class="n" x="52" y="473.4">ZmHEC3 2</text><text class="sq" x="147.5" y="473.9"><tspan class="r">EE</tspan>L<tspan class="o">G</tspan><tspan class="c">A</tspan>M<tspan class="b">K</tspan><tspan class="r">E</tspan>MM<tspan class="y">Y</tspan><tspan class="b">R</tspan>I<tspan class="c">AA</tspan>M<tspan class="q">Q</tspan><tspan class="p">P</tspan>V<tspan class="r">D</tspan>I<tspan class="r">D</tspan><tspan class="p">P</tspan><tspan class="c">A</tspan><tspan class="t">~</tspan><tspan class="s">T</tspan>V<tspan class="b">KK</tspan><tspan class="p">P</tspan><tspan class="b">RRR</tspan><tspan class="q">N</tspan>V<tspan class="b">R</tspan>I<tspan class="s">S</tspan><tspan class="r">ED</tspan><tspan class="p">P</tspan><tspan class="q">Q</tspan><tspan class="s">S</tspan>V<tspan class="c">AA</tspan><tspan class="b">R</tspan><tspan class="h">H</tspan><tspan class="b">RR</tspan><tspan class="r">E</tspan><tspan class="b">R</tspan>I<tspan class="s">S</tspan><tspan class="r">E</tspan><tspan class="b">R</tspan>V<tspan class="b">R</tspan>VL<tspan class="q">Q</tspan><tspan class="b">R</tspan>LV<tspan class="p">P</tspan><tspan class="o">GG</tspan><tspan class="s">T</tspan><tspan class="b">K</tspan>M<tspan class="r">D</tspan><tspan class="t">~</tspan><tspan class="s">T</tspan><tspan class="c">A</tspan><tspan class="s">S</tspan>ML<tspan class="r">DE</tspan><tspan class="c">A</tspan>I<tspan class="b">R</tspan><tspan class="y">Y</tspan>I<tspan class="b">K</tspan><tspan class="y">F</tspan>L<tspan class="b">KR</tspan><tspan class="q">Q</tspan>V<tspan class="t">~</tspan><tspan class="q">Q</tspan><tspan class="r">E</tspan>L<tspan class="q">Q</tspan><tspan class="h">H</tspan><tspan class="p">P</tspan><tspan class="c">A</tspan><tspan class="h">H</tspan><tspan class="c">AAA</tspan></text></g>
<g id="r22"><text class="n" x="52" y="490.3">BosphaHEC3</text><text class="sq" x="147.5" y="490.8"><tspan class="r">E</tspan><tspan class="q">Q</tspan>L<tspan class="o">G</tspan><tspan class="c">A</tspan>M<tspan class="b">K</tspan><tspan class="r">E</tspan>MM<tspan class="y">Y</tspan><tspan class="b">K</tspan>I<tspan class="c">AA</tspan>M<tspan class="q">Q</tspan><tspan class="p">P</tspan>V<tspan class="r">D</tspan>I<tspan class="r">D</tspan><tspan class="p">P</tspan><tspan class="s">S</tspan><tspan class="t">~</tspan><tspan class="s">T</tspan>I<tspan class="b">KK</tspan><tspan class="p">P</tspan><tspan class="b">KRR</tspan><tspan class="q">N</tspan>V<tspan class="b">R</tspan>I<tspan class="s">S</tspan><tspan class="r">DD</tspan><tspan class="p">P</tspan><tspan class="q">Q</tspan><tspan class="s">S</tspan>I<tspan class="c">AA</tspan><tspan class="b">R</tspan><tspan class="h">H</tspan><tspan class="b">RR</tspan><tspan class="r">E</tspan><tspan class="b">R</tspan>I<tspan class="s">S</tspan><tspan class="r">E</tspan><tspan class="b">R</tspan>I<tspan class="b">R</tspan>IL<tspan class="q">Q</tspan><tspan class="b">R</tspan>LV<tspan class="p">P</tspan><tspan class="o">GG</tspan><tspan class="s">T</tspan><tspan class="b">K</tspan>M<tspan class="r">D</tspan><tspan class="t">~</tspan><tspan class="s">T</tspan><tspan class="c">A</tspan><tspan class="s">S</tspan>ML<tspan class="r">DE</tspan><tspan class="c">A</tspan>I<tspan class="b">R</tspan><tspan class="y">Y</tspan>V<tspan class="b">K</tspan><tspan class="y">F</tspan>L<tspan class="b">KR</tspan><tspan class="q">Q</tspan>V<tspan class="t">~</tspan><tspan class="q">Q</tspan><tspan class="r">E</tspan>L<tspan class="q">Q</tspan><tspan class="s">S</tspan><tspan class="q">N</tspan><tspan class="p">PP</tspan><tspan class="q">Q</tspan><tspan class="p">P</tspan>V</text></g>
<g id="r23"><text class="n" x="52" y="507.2">AreleHEC3</text><text class="sq" x="147.5" y="507.7"><tspan class="r">E</tspan><tspan class="c">A</tspan>I<tspan class="c">A</tspan><tspan class="q">Q</tspan>M<tspan class="b">K</tspan><tspan class="r">E</tspan>MI<tspan class="y">Y</tspan><tspan class="b">R</tspan><tspan class="c">AAA</tspan><tspan class="y">F</tspan><tspan class="b">R</tspan><tspan class="p">P</tspan>V<tspan class="q">N</tspan><tspan class="y">F</tspan><tspan class="o">G</tspan><tspan class="y">F</tspan><tspan class="r">E</tspan><tspan class="c">A</tspan>V<tspan class="r">D</tspan><tspan class="q">Q</tspan><tspan class="b">K</tspan><tspan class="p">P</tspan><tspan class="b">KRK</tspan><tspan class="q">N</tspan>V<tspan class="b">R</tspan>I<tspan class="s">SS</tspan><tspan class="r">D</tspan><tspan class="p">P</tspan><tspan class="q">Q</tspan><tspan class="s">T</tspan>V<tspan class="c">AA</tspan><tspan class="b">R</tspan><tspan class="q">Q</tspan><tspan class="b">RR</tspan><tspan class="r">E</tspan><tspan class="b">R</tspan>I<tspan class="s">S</tspan><tspan class="q">Q</tspan><tspan class="b">R</tspan>I<tspan class="b">R</tspan>VL<tspan class="q">Q</tspan><tspan class="b">R</tspan>LV<tspan class="p">P</tspan><tspan class="o">GG</tspan><tspan class="s">S</tspan><tspan class="b">K</tspan>M<tspan class="r">D</tspan><tspan class="t">~</tspan><tspan class="s">T</tspan><tspan class="c">A</tspan><tspan class="s">S</tspan>ML<tspan class="r">DE</tspan><tspan class="c">AA</tspan><tspan class="q">N</tspan><tspan class="y">Y</tspan>L<tspan class="b">K</tspan><tspan class="y">F</tspan>L<tspan class="b">K</tspan><tspan class="s">S</tspan><tspan class="q">Q</tspan>V<tspan class="t">~</tspan><tspan class="s">T</tspan><tspan class="c">A</tspan>L<tspan class="r">E</tspan><tspan class="b">K</tspan>I<tspan class="o">GG</tspan><tspan class="h">H</tspan><tspan class="s">T</tspan><tspan class="t">~</tspan></text></g>
<g id="r24"><text class="n" x="52" y="524.1">IllfloHEC3</text><text class="sq" x="147.5" y="524.6"><tspan class="r">E</tspan><tspan class="c">A</tspan>I<tspan class="c">A</tspan><tspan class="s">S</tspan>M<tspan class="b">K</tspan><tspan class="r">E</tspan>MI<tspan class="y">Y</tspan><tspan class="b">R</tspan><tspan class="s">T</tspan><tspan class="c">AA</tspan><tspan class="y">F</tspan><tspan class="b">R</tspan><tspan class="p">P</tspan>V<tspan class="q">N</tspan>L<tspan class="r">D</tspan><tspan class="y">F</tspan><tspan class="r">E</tspan><tspan class="t">~</tspan><tspan class="s">T</tspan>L<tspan class="r">E</tspan><tspan class="b">K</tspan><tspan class="p">P</tspan><tspan class="b">RRK</tspan><tspan class="q">N</tspan>V<tspan class="b">R</tspan>I<tspan class="s">SS</tspan><tspan class="r">D</tspan><tspan class="p">P</tspan><tspan class="q">Q</tspan><tspan class="s">T</tspan>V<tspan class="c">AA</tspan><tspan class="b">R</tspan><tspan class="q">Q</tspan><tspan class="b">RR</tspan><tspan class="r">E</tspan><tspan class="b">R</tspan>I<tspan class="s">S</tspan><tspan class="r">E</tspan><tspan class="b">R</tspan>I<tspan class="b">R</tspan>VL<tspan class="q">Q</tspan><tspan class="b">R</tspan>LV<tspan class="p">P</tspan><tspan class="o">GG</tspan><tspan class="s">T</tspan><tspan class="b">K</tspan>M<tspan class="r">D</tspan><tspan class="t">~</tspan><tspan class="s">T</tspan><tspan class="c">A</tspan><tspan class="s">S</tspan>ML<tspan class="r">DE</tspan><tspan class="c">AA</tspan><tspan class="q">N</tspan><tspan class="y">Y</tspan>L<tspan class="b">K</tspan><tspan class="y">F</tspan>L<tspan class="b">R</tspan><tspan class="s">S</tspan><tspan class="q">Q</tspan>V<tspan class="t">~</tspan><tspan class="s">T</tspan><tspan class="c">A</tspan>L<tspan class="r">E</tspan><tspan class="s">S</tspan>L<tspan class="o">G</tspan><tspan class="q">QQ</tspan><tspan class="b">R</tspan></text></g>
<g id="r25"><text class="n" x="52" y="541">TotaHEC3</text><text class="sq" x="147.5" y="541.5"><tspan class="r">E</tspan><tspan class="c">A</tspan>I<tspan class="c">A</tspan><tspan class="s">S</tspan>M<tspan class="b">K</tspan><tspan class="r">E</tspan>MV<tspan class="y">Y</tspan><tspan class="b">R</tspan><tspan class="c">AA</tspan>V<tspan class="y">F</tspan><tspan class="b">R</tspan><tspan class="p">P</tspan>V<tspan class="q">N</tspan>L<tspan class="o">G</tspan><tspan class="s">T</tspan><tspan class="r">E</tspan><tspan class="t">~</tspan>VL<tspan class="r">E</tspan><tspan class="b">K</tspan><tspan class="p">P</tspan><tspan class="b">KRK</tspan><tspan class="q">N</tspan>V<tspan class="b">R</tspan>I<tspan class="s">SS</tspan><tspan class="h">H</tspan><tspan class="p">P</tspan><tspan class="q">Q</tspan><tspan class="s">T</tspan>V<tspan class="c">AA</tspan><tspan class="b">R</tspan><tspan class="q">Q</tspan><tspan class="b">RR</tspan><tspan class="r">E</tspan><tspan class="b">R</tspan>I<tspan class="q">N</tspan><tspan class="r">D</tspan><tspan class="b">R</tspan>L<tspan class="b">R</tspan>IL<tspan class="q">Q</tspan><tspan class="b">R</tspan>LV<tspan class="p">P</tspan><tspan class="o">GG</tspan><tspan class="s">T</tspan><tspan class="b">K</tspan>M<tspan class="r">D</tspan><tspan class="t">~</tspan><tspan class="s">T</tspan><tspan class="c">A</tspan><tspan class="s">S</tspan>ML<tspan class="r">EE</tspan><tspan class="c">A</tspan>V<tspan class="q">N</tspan><tspan class="y">Y</tspan>L<tspan class="b">K</tspan><tspan class="y">F</tspan>L<tspan class="b">K</tspan><tspan class="s">T</tspan><tspan class="q">Q</tspan>V<tspan class="t">~</tspan><tspan class="b">K</tspan>VL<tspan class="q">Q</tspan><tspan class="s">S</tspan>M<tspan class="c">A</tspan><tspan class="q">NN</tspan><tspan class="b">K</tspan>V<tspan class="t">~</tspan></text></g>
<g id="r26"><text class="n" x="52" y="557.9">WonoHEC3</text><text class="sq" x="147.5" y="558.4"><tspan class="r">E</tspan><tspan class="c">A</tspan>I<tspan class="c">A</tspan><tspan class="s">S</tspan>M<tspan class="b">R</tspan><tspan class="r">E</tspan>MI<tspan class="y">Y</tspan><tspan class="b">R</tspan><tspan class="c">AAA</tspan><tspan class="y">F</tspan><tspan class="b">R</tspan><tspan class="p">P</tspan>V<tspan class="q">N</tspan>L<tspan class="o">G</tspan><tspan class="s">S</tspan><tspan class="r">D</tspan><tspan class="t">~</tspan>VL<tspan class="r">E</tspan><tspan class="b">K</tspan><tspan class="p">P</tspan><tspan class="b">KRK</tspan><tspan class="q">N</tspan>V<tspan class="b">K</tspan>I<tspan class="s">SS</tspan><tspan class="r">D</tspan><tspan class="p">P</tspan><tspan class="q">Q</tspan><tspan class="s">T</tspan>V<tspan class="c">AA</tspan><tspan class="b">R</tspan><tspan class="q">Q</tspan><tspan class="b">RR</tspan><tspan class="r">E</tspan><tspan class="b">R</tspan>I<tspan class="s">S</tspan><tspan class="r">E</tspan><tspan class="b">R</tspan>I<tspan class="b">R</tspan>IL<tspan class="q">Q</tspan><tspan class="b">R</tspan>LV<tspan class="p">P</tspan><tspan class="o">GG</tspan><tspan class="s">T</tspan><tspan class="b">K</tspan>M<tspan class="r">D</tspan><tspan class="t">~</tspan><tspan class="s">T</tspan><tspan class="c">A</tspan><tspan class="s">S</tspan>ML<tspan class="r">DE</tspan><tspan class="c">A</tspan>V<tspan class="q">N</tspan><tspan class="y">Y</tspan>L<tspan class="b">K</tspan><tspan class="y">F</tspan>L<tspan class="b">K</tspan><tspan class="s">T</tspan><tspan class="q">Q</tspan>V<tspan class="t">~</tspan><tspan class="b">K</tspan><tspan class="s">T</tspan>L<tspan class="q">Q</tspan><tspan class="s">S</tspan>M<tspan class="o">G</tspan><tspan class="q">N</tspan><tspan class="s">S</tspan><tspan class="t">~~~</tspan></text></g>
<g id="r27"><text class="n" x="52" y="574.8">FataHEC3</text><text class="sq" x="147.5" y="575.3"><tspan class="r">E</tspan><tspan class="c">A</tspan>I<tspan class="c">A</tspan><tspan class="s">S</tspan>M<tspan class="b">R</tspan><tspan class="r">E</tspan>MI<tspan class="y">Y</tspan><tspan class="b">R</tspan><tspan class="c">AAA</tspan><tspan class="y">F</tspan><tspan class="b">R</tspan><tspan class="p">P</tspan>V<tspan class="q">N</tspan>L<tspan class="o">G</tspan><tspan class="c">A</tspan><tspan class="r">E</tspan><tspan class="t">~</tspan>VL<tspan class="r">E</tspan><tspan class="b">K</tspan><tspan class="p">P</tspan><tspan class="b">KRK</tspan><tspan class="q">N</tspan>V<tspan class="b">K</tspan>I<tspan class="s">SS</tspan><tspan class="r">D</tspan><tspan class="p">P</tspan><tspan class="q">Q</tspan><tspan class="s">T</tspan>V<tspan class="c">AA</tspan><tspan class="b">R</tspan><tspan class="q">Q</tspan><tspan class="b">RR</tspan><tspan class="r">E</tspan><tspan class="b">R</tspan>I<tspan class="s">S</tspan><tspan class="r">E</tspan><tspan class="b">R</tspan>I<tspan class="b">R</tspan>IL<tspan class="q">Q</tspan><tspan class="b">K</tspan>LV<tspan class="p">P</tspan><tspan class="o">GG</tspan><tspan class="s">T</tspan><tspan class="b">K</tspan>M<tspan class="r">D</tspan><tspan class="t">~</tspan><tspan class="s">T</tspan><tspan class="c">A</tspan><tspan class="s">S</tspan>ML<tspan class="r">DE</tspan><tspan class="c">A</tspan>V<tspan class="q">N</tspan><tspan class="y">Y</tspan>L<tspan class="b">K</tspan><tspan class="y">F</tspan>L<tspan class="b">K</tspan><tspan class="s">T</tspan><tspan class="q">Q</tspan>V<tspan class="t">~</tspan><tspan class="b">K</tspan><tspan class="c">A</tspan>L<tspan class="q">Q</tspan><tspan class="s">S</tspan>M<tspan class="o">G</tspan><tspan class="q">NN</tspan><tspan class="t">~~~</tspan></text></g>
<g id="r28"><text class="n" x="52" y="591.7">PipaHEC3</text><text class="sq" x="147.5" y="592.2"><tspan class="r">E</tspan><tspan class="c">A</tspan>I<tspan class="c">A</tspan><tspan class="s">T</tspan>M<tspan class="b">R</tspan><tspan class="r">E</tspan>MI<tspan class="y">Y</tspan><tspan class="b">R</tspan><tspan class="c">AAA</tspan><tspan class="y">F</tspan><tspan class="b">R</tspan><tspan class="p">P</tspan>V<tspan class="q">N</tspan>L<tspan class="o">G</tspan>M<tspan class="r">E</tspan><tspan class="t">~</tspan>IL<tspan class="r">E</tspan><tspan class="b">K</tspan><tspan class="p">P</tspan><tspan class="b">KRK</tspan><tspan class="q">N</tspan>V<tspan class="b">R</tspan>I<tspan class="s">SS</tspan><tspan class="r">D</tspan><tspan class="p">P</tspan><tspan class="q">Q</tspan><tspan class="s">T</tspan>V<tspan class="c">AA</tspan><tspan class="b">R</tspan><tspan class="q">Q</tspan><tspan class="b">RR</tspan><tspan class="r">E</tspan><tspan class="b">R</tspan>I<tspan class="s">S</tspan><tspan class="r">D</tspan><tspan class="b">R</tspan>I<tspan class="b">R</tspan>IL<tspan class="q">Q</tspan><tspan class="b">R</tspan>LV<tspan class="p">P</tspan><tspan class="o">GG</tspan><tspan class="s">T</tspan><tspan class="b">K</tspan>M<tspan class="r">D</tspan><tspan class="t">~</tspan><tspan class="s">T</tspan><tspan class="c">A</tspan><tspan class="s">T</tspan>ML<tspan class="r">DE</tspan><tspan class="c">A</tspan>V<tspan class="q">N</tspan><tspan class="y">Y</tspan>L<tspan class="b">K</tspan><tspan class="y">F</tspan>L<tspan class="b">K</tspan><tspan class="c">A</tspan><tspan class="q">Q</tspan>V<tspan class="t">~</tspan><tspan class="b">K</tspan><tspan class="s">T</tspan>L<tspan class="r">E</tspan><tspan class="s">S</tspan>L<tspan class="o">G</tspan><tspan class="q">N</tspan><tspan class="b">K</tspan>V<tspan class="t">~</tspan></text></g>
</svg>
